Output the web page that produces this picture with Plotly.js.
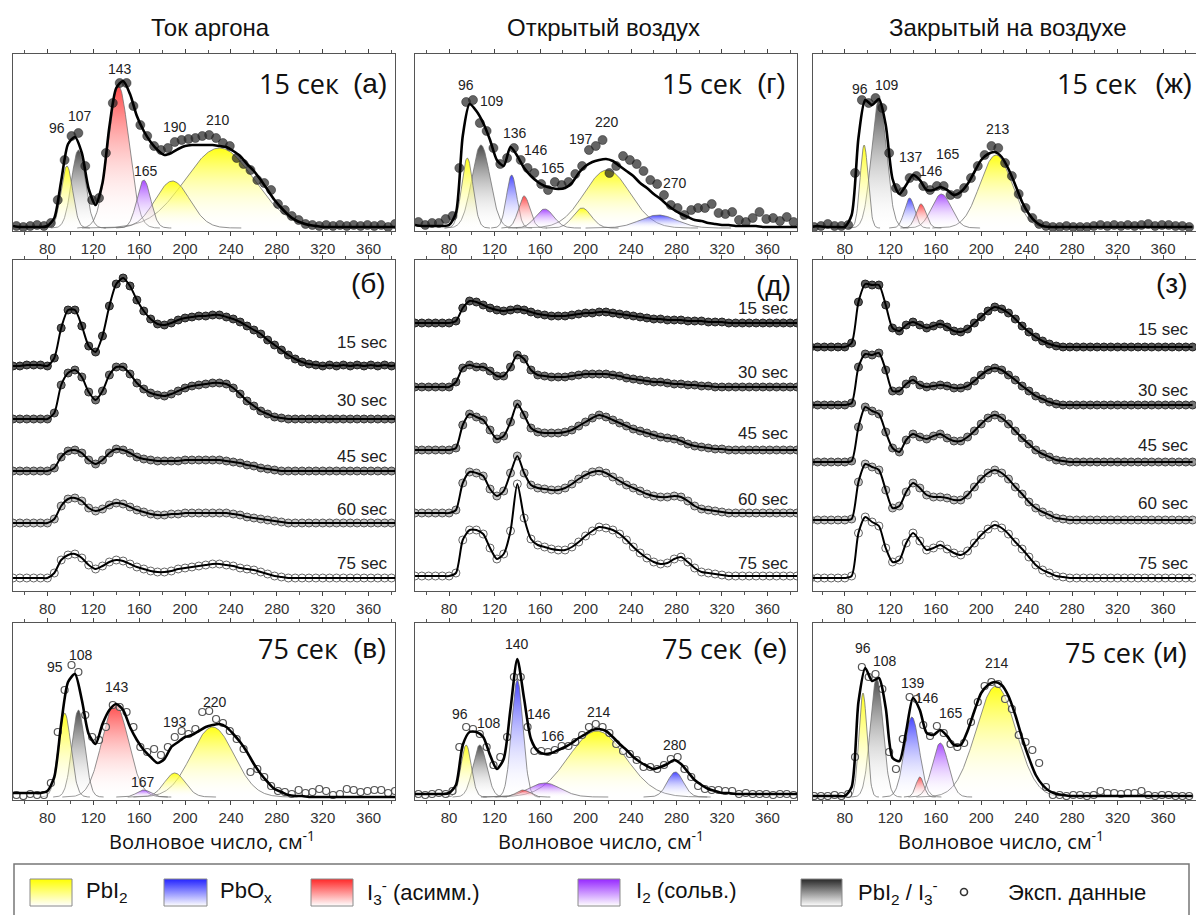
<!DOCTYPE html>
<html><head><meta charset="utf-8">
<script src="https://cdn.plot.ly/plotly-3.0.1.min.js"></script>
<style>html,body{margin:0;padding:0;background:#fff}#chart{width:1196px;height:915px}</style>
</head><body><div id="chart"></div>
<script>
// ---------------- DATA ----------------
const columnTitles = ['Ток аргона', 'Открытый воздух', 'Закрытый на воздухе'];
const stackLabels = ['15 sec', '30 sec', '45 sec', '60 sec', '75 sec'];
const panelLetters = [['(а)', '(г)', '(ж)'], ['(б)', '(д)', '(з)'], ['(в)', '(е)', '(и)']];
const topTimeLabel = '15 сек', bottomTimeLabel = '75 сек';
const xTitle = 'Волновое число, см<sup>-1</sup>';
const legendNames = ['PbI<sub>2</sub>', 'PbO<sub>x</sub>', 'I<sub>3</sub><sup>-</sup> (асимм.)', 'I<sub>2</sub> (сольв.)', 'PbI<sub>2</sub> / I<sub>3</sub><sup>-</sup>', 'Эксп. данные'];
const legendKinds = ['PbI2', 'PbOx', 'I3', 'I2', 'PbI2/I3'];

// wavenumber grids (cm-1)
const fitX = [50,56,62,68,74,80,86,92,98,104,110,116,122,128,134,140,146,152,158,164,170,176,182,188,194,200,206,212,218,224,230,236,242,248,254,260,266,272,278,284,290,296,302,308,314,320,326,332,338,344,350,356,362,368,374,380,386];
const dotX = [53,59,65,71,77,83,89,95,101,107,113,119,125,131,137,143,149,155,161,167,173,179,185,191,197,203,209,215,221,227,233,239,245,251,257,263,269,275,281,287,293,299,305,311,317,323,329,335,341,347,353,359,365,371,377,383];

// (а) argon 15 s
const fitA  = [2,1,1,1,1,2,10,47,84,91, 75,39,23,45,101,140,147,134,112,97, 86,78,73,75,79,82,83,83,83,83, 82,81,77,72,64,57,48,38,28,20, 13,8,5,3,2,1,1,1,1,1, 1,1,1,1,1,1,1];
const dotsA = [2,1,2,3,2,5,28,68,92,95, 62,28,30,75,125,145,145,122,103,92, 82,78,80,86,88,89,90,92,93,90, 85,82,70,64,58,48,45,38,24,18, 12,8,4,3,2,3,2,3,2,3, 2,3,2,3,1,4];
const peaksA   = ['96','107','143','165','190','210'];
const centersA = [97,107,142,164,189,230];
const heightsA = [62,78,142,48,47,80];
const widthsA  = [5,6,9,6,15,30];
const kindsA   = ['PbI2','PbI2/I3','I3','I2','PbI2','PbI2'];

// (г) open air 15 s
const fitG  = [3,2,2,2,2,3,15,92,124,117, 105,88,68,62,81,72,60,52,46,42, 40,39,40,45,55,62,66,68,69,67, 62,57,52,45,40,34,29,23,18,14, 11,8,7,5,4,3,3,2,2,2, 2,1,1,1,1,1,1];
const dotsG = [6,3,5,5,9,12,60,126,128,105, 97,80,64,70,80,68,60,55,44,38, 46,43,46,54,62,78,82,88,55,62, 72,68,64,57,48,44,33,23,20,13, 18,20,20,24,15,14,16,8,6,10, 16,9,10,7,11,6];
const peaksG   = ['96','109','136','146','165','197','220','270'];
const centersG = [96,108,135,146,164,197,219,264];
const heightsG = [70,83,53,32,19,20,58,13];
const widthsG  = [5,8,4.5,5,8,8,20,16];
const kindsG   = ['PbI2','PbI2/I3','PbOx','I3','I2','PbI2','PbI2','PbOx'];

// (ж) closed in air 15 s
const fitZh  = [1,2,1,1,1,1,13,90,128,123, 129,103,49,34,43,53,48,38,38,41, 38,33,36,44,56,68,74,76,71,59, 43,26,14,6,2,1,1,1,1,1, 1,1,1,1,1,1,1,1,1,1, 1,1,1,1,1,1,1];
const dotsZh = [1,2,4,2,2,3,55,128,125,130, 120,75,40,36,50,52,42,38,42,42, 33,34,40,50,62,73,82,80,65,52, 34,20,10,4,2,1,1,2,1,1, 1,2,3,2,3,2,3,2,3,4, 2,3,3,2,2,1];
const peaksZh   = ['96','109','137','146','165','213'];
const centersZh = [97,110,137,147,165,213];
const heightsZh = [83,128,30,24,34,73];
const widthsZh  = [3.5,6.5,4.5,4.5,8.5,14];
const kindsZh   = ['PbI2','PbI2/I3','PbOx','I3','I2','PbI2'];

// (в) argon 75 s
const fitV  = [4,4,4,4,4,6,20,73,115,123, 97,63,53,73,87,93,87,70,57,47, 40,34,38,50,55,60,62,66,70,72, 73,70,63,55,45,33,23,15,8,5, 2,1,1,0,0,0,0,0,0,0, 0,0,0,0,0,0,0];
const dotsV = [2,1,3,2,2,14,65,107,132,125, 82,60,57,70,92,90,85,70,50,45, 48,42,50,60,66,63,68,85,86,78, 74,66,58,48,25,28,20,11,6,5, 3,7,4,5,8,6,2,3,8,7, 5,6,7,7,4,6];
const peaksV   = ['95','108','143','167','193','220'];
const centersV = [95,107,139,164,191,224];
const heightsV = [84,87,93,7,24,70];
const widthsV  = [5.5,5.5,11.5,6,9,18.5];
const kindsV   = ['PbI2','PbI2/I3','I3','I2','PbI2','PbI2'];

// (е) open air 75 s
const fitE  = [3,3,3,3,3,4,12,52,65,65, 60,42,28,38,88,138,98,58,46,43, 44,47,50,54,59,63,67,68,66,60, 53,47,40,35,31,28,30,33,37,33, 25,17,12,8,6,4,4,3,3,3, 3,3,3,3,3,3,3];
const dotsE = [3,2,3,4,3,6,50,70,68,63, 50,32,40,60,120,120,70,46,46,45, 47,51,51,55,62,70,73,70,64,53, 46,43,37,30,30,28,32,38,40,28, 20,11,8,7,7,6,6,3,4,3, 3,3,2,3,3,2];
const peaksE   = ['96','108','140','146','166','214','280'];
const centersE = [95,107,140,145,164,210,279];
const heightsE = [52,52,117,7,14,66,25];
const widthsE  = [4.5,6,5,6,14,25,7];
const kindsE   = ['PbI2','PbI2/I3','PbOx','I3','I2','PbI2','PbOx'];

// (и) closed in air 75 s
const fitI  = [1,1,1,1,1,1,10,95,129,116, 119,89,39,36,66,99,87,64,62,67, 61,52,52,66,86,104,112,115,112,101, 82,59,39,22,12,6,3,2,1,1, 1,1,1,1,1,1,1,1,1,1, 1,1,1,1,1,1,1];
const dotsI = [1,1,1,2,1,3,40,130,120,123, 108,45,28,58,100,98,72,61,71,64, 53,50,54,75,95,111,115,113,98,88, 62,55,47,34,10,2,2,1,2,2, 1,2,6,4,4,3,4,4,6,2, 1,2,2,1,1,1];
const peaksI   = ['96','108','139','146','165','214'];
const centersI = [96,108,139,146,164,213];
const heightsI = [104,119,80,20,54,111];
const widthsI  = [3.5,5.5,6.5,3.5,7,17.5];
const kindsI   = ['PbI2','PbI2/I3','PbOx','I3','I2','PbI2'];

// middle row: stacked spectra (intensity above each trace's own baseline)
const argon15 = [0,0,1,1,1,0,8,38,56,56, 40,20,14,30,60,82,88,80,66,55, 47,42,41,43,46,48,49,50,50,51, 51,49,47,44,40,36,32,26,21,16, 11,7,4,2,1,0,1,0,1,0, 1,0,1,0,1,0,1];
const argon30 = [0,0,0,0,0,0,6,34,46,49, 42,27,19,28,44,52,52,45,36,30, 26,24,23,25,28,31,33,34,35,36, 36,35,31,25,18,13,8,5,2,1, 0,0,0,0,0,0,0,0,0,0, 0,0,0,0,0,0,0];
const argon45 = [0,0,0,0,0,0,3,14,20,21, 18,11,7,11,18,22,21,18,14,12, 11,10,10,10,10,11,11,11,11,11, 11,10,9,8,6,5,3,2,1,0, 0,0,0,0,0,0,0,0,0,0, 0,0,0,0,0,0,0];
const argon60 = [0,0,0,0,0,0,4,17,24,25, 22,15,12,14,18,20,19,16,13,11, 9,8,8,9,9,10,10,10,10,10, 10,10,9,8,6,5,4,3,2,1, 0,0,0,0,0,0,0,0,0,0, 0,0,0,0,0,0,0];
const argon75 = [0,0,0,0,0,0,5,18,23,24, 20,13,9,12,16,18,17,14,11,9, 7,6,6,7,9,10,11,12,13,14, 14,13,12,10,9,8,6,4,2,1, 0,0,0,0,0,0,0,0,0,0, 0,0,0,0,0,0,0];
const open15 = [0,0,0,0,0,0,2,15,22,21, 18,15,13,12,13,14,13,11,9,8, 7,7,7,8,9,10,10,11,11,10, 9,8,7,6,5,4,4,3,3,3, 2,2,2,1,1,1,0,0,0,0, 0,0,0,0,0,0,0];
const open30 = [0,0,0,0,0,0,5,19,22,20, 20,16,11,11,20,32,28,17,12,11, 10,10,10,11,12,13,13,13,13,12, 11,9,8,7,6,5,5,4,3,3, 2,2,1,1,0,0,0,0,0,0, 0,0,0,0,0,0,0];
const open45 = [0,0,0,0,0,0,2,25,36,33, 30,20,11,14,28,46,35,22,18,17, 17,17,18,20,24,28,32,35,33,30, 27,24,21,19,17,15,13,12,11,9, 6,4,3,2,1,1,0,0,0,0, 0,0,0,0,0,0,0];
const open60 = [0,0,0,0,0,0,3,30,41,40, 37,24,17,22,40,57,40,28,25,24, 23,23,25,29,34,38,41,42,40,36, 32,28,25,22,19,17,16,16,17,16, 12,7,4,3,2,1,0,0,0,0, 0,0,0,0,0,0,0];
const open75 = [0,0,0,0,0,0,3,36,46,46, 42,28,17,22,45,92,58,37,31,29, 27,26,26,29,34,40,45,49,48,46, 42,36,29,23,18,14,12,13,17,19, 14,8,4,3,2,1,0,0,0,0, 0,0,0,0,0,0,0];
const closed15 = [0,0,0,0,0,0,4,45,63,62, 62,42,19,16,22,25,22,19,21,23, 20,16,15,18,24,30,36,40,38,34, 28,21,15,10,6,3,1,0,0,0, 0,0,0,0,0,0,0,0,0,0, 0,0,0,0,0,0,0];
const closed30 = [0,0,0,0,0,0,2,38,51,50, 52,35,14,14,21,25,20,18,19,20, 19,17,17,19,24,30,35,37,35,30, 25,19,14,9,6,3,1,0,0,0, 0,0,0,0,0,0,0,0,0,0, 0,0,0,0,0,0,0];
const closed45 = [0,0,0,0,0,0,1,35,55,51, 48,30,14,10,22,28,25,23,26,28, 24,21,21,25,31,38,44,47,44,38, 31,24,18,12,8,5,2,1,0,0, 0,0,0,0,0,0,0,0,0,0, 0,0,0,0,0,0,0];
const closed60 = [0,0,0,0,0,0,1,38,56,53, 50,30,12,14,28,37,32,25,23,23, 22,20,20,25,33,41,47,50,47,41, 33,26,18,12,8,5,2,1,0,0, 0,0,0,0,0,0,0,0,0,0, 0,0,0,0,0,0,0];
const closed75 = [0,0,0,0,0,0,2,45,61,56, 52,30,16,18,35,45,37,28,30,33, 29,25,23,27,35,43,49,53,50,44, 36,29,21,13,8,5,2,1,0,0, 0,0,0,0,0,0,0,0,0,0, 0,0,0,0,0,0,0];

// ---------------- LAYOUT / STYLE ----------------
const W = 1196, H = 915;
const px = x => x / W, py = y => 1 - y / H;
const ARIAL = "'Liberation Sans', Arial, sans-serif";
const OPEN = "'Open Sans', 'Liberation Sans', sans-serif";
const colDom = [[13, 395], [415, 797], [813, 1196]];
const rowDom = [[54, 231], [260, 591], [623, 800]];
const colRange = [[50, 383], [50, 386], [52, 389]];
const fitRange = [-3, 174], stackRange = [0, 331];
const stackOffsets = [[225, 172, 120, 68, 13], [268, 204, 141, 78, 15], [244, 186, 129, 71, 13]];
const stackLabelY = [[343, 401, 457, 509, 563], [308, 373, 434, 499, 563], [330, 391, 445, 503, 563]];
const stackLabelRight = [390, 791, 1191];
const stackDotStyle = [
  {fill: 'rgba(45,45,45,0.8)', line: '#222'},
  {fill: 'rgba(70,70,70,0.75)', line: '#333'},
  {fill: 'rgba(105,105,105,0.7)', line: '#444'},
  {fill: 'rgba(160,160,160,0.6)', line: '#555'},
  {fill: 'rgba(255,255,255,0.4)', line: '#666'}
];
const kindColor = {
  'PbI2': 'rgba(255,255,0,0.92)', 'PbOx': 'rgba(35,35,255,0.85)', 'I3': 'rgba(255,40,40,0.85)',
  'I2': 'rgba(150,40,255,0.85)', 'PbI2/I3': 'rgba(40,40,40,0.85)'
};
const labelPos = {
  A: [[88,100],[108,112],[143,159],[166,57],[191,101],[229,108]],
  G: [[95,143],[118,127],[138,95],[156,78],[171,60],[196,89],[219,106],[279,45]],
  Zh: [[93,139],[117,143],[138.5,71],[156,57],[171,74],[214.5,99]],
  V: [[87,130],[109,142],[141,110],[163.5,15],[191,75],[226,95]],
  E: [[90,83],[115,74],[140,153],[159,83],[171,61],[212,85],[279,52]],
  I: [[96,149],[115,136],[140,114],[152,99],[173,84],[214,134]]
};
const timeLabelPos = {top: [[341,83],[744,83],[1139,83]], bottom: [[340,648],[744,648],[1147,652]]};
const letterPos = [[[389,83],[788,83],[1194,83]], [[388,283],[793,285],[1190,283]], [[389,648],[789,648],[1189,652]]];
const titleX = [210, 603, 1008], xTitleX = [212, 601, 1001];

const traces = [], annotations = [], shapes = [];
const layout = {
  width: W, height: H, margin: {l: 0, r: 0, t: 0, b: 0},
  paper_bgcolor: '#ffffff', plot_bgcolor: 'rgba(0,0,0,0)', showlegend: false,
  font: {family: ARIAL, size: 14, color: '#222'}, hovermode: false
};
const sfx = k => (k === 1 ? '' : String(k));

for (let row = 0; row < 3; row++) {
  for (let col = 0; col < 3; col++) {
    const k = row * 3 + col + 1;
    layout['xaxis' + sfx(k)] = {
      domain: [px(colDom[col][0]), px(colDom[col][1])], range: colRange[col], anchor: 'y' + sfx(k),
      tickmode: 'linear', tick0: 80, dtick: 40, ticks: 'outside', ticklen: 4, tickwidth: 1, tickcolor: '#444',
      minor: {dtick: 20, ticks: 'outside', ticklen: 2.5, tickcolor: '#555'},
      showline: true, linecolor: '#555', linewidth: 1.3, mirror: 'allticks',
      showgrid: false, zeroline: false, fixedrange: true,
      tickfont: {family: ARIAL, size: 15, color: '#333'}
    };
    layout['yaxis' + sfx(k)] = {
      domain: [py(rowDom[row][1]), py(rowDom[row][0])], range: row === 1 ? stackRange : fitRange,
      anchor: 'x' + sfx(k), showticklabels: false, ticks: '', showline: true, linecolor: '#555',
      linewidth: 1.3, mirror: col === 2 ? false : true, showgrid: false, zeroline: false, fixedrange: true
    };
  }
}
// overlay axis in pixel units for the custom legend
layout.xaxis10 = {domain: [0, 1], range: [0, W], visible: false, fixedrange: true, anchor: 'y10'};
layout.yaxis10 = {domain: [0, 1], range: [H, 0], visible: false, fixedrange: true, anchor: 'x10'};

// ---- fitted panels (top and bottom rows) ----
const fitPanels = [
  {row: 0, col: 0, fit: fitA, dots: dotsA, p: peaksA, c: centersA, h: heightsA, w: widthsA, kd: kindsA, pos: labelPos.A},
  {row: 0, col: 1, fit: fitG, dots: dotsG, p: peaksG, c: centersG, h: heightsG, w: widthsG, kd: kindsG, pos: labelPos.G},
  {row: 0, col: 2, fit: fitZh, dots: dotsZh, p: peaksZh, c: centersZh, h: heightsZh, w: widthsZh, kd: kindsZh, pos: labelPos.Zh},
  {row: 2, col: 0, fit: fitV, dots: dotsV, p: peaksV, c: centersV, h: heightsV, w: widthsV, kd: kindsV, pos: labelPos.V},
  {row: 2, col: 1, fit: fitE, dots: dotsE, p: peaksE, c: centersE, h: heightsE, w: widthsE, kd: kindsE, pos: labelPos.E},
  {row: 2, col: 2, fit: fitI, dots: dotsI, p: peaksI, c: centersI, h: heightsI, w: widthsI, kd: kindsI, pos: labelPos.I}
];
const gaussGrid = [];
for (let x = 50; x <= 390; x += 0.5) gaussGrid.push(x);

fitPanels.forEach(P => {
  const k = P.row * 3 + P.col + 1, xa = 'x' + sfx(k), ya = 'y' + sfx(k);
  const order = P.c.map((_, i) => i).sort((a, b) => P.w[b] * P.h[b] - P.w[a] * P.h[a]);
  order.forEach(i => {
    const xs = gaussGrid.filter(x => Math.abs(x - P.c[i]) <= 4 * P.w[i]);
    const ys = xs.map(x => P.h[i] * Math.exp(-0.5 * Math.pow((x - P.c[i]) / P.w[i], 2)));
    traces.push({
      type: 'scatter', mode: 'lines', x: xs, y: ys, xaxis: xa, yaxis: ya, fill: 'tozeroy',
      fillgradient: {type: 'vertical', colorscale: [[0, 'rgba(255,255,255,0.05)'], [1, kindColor[P.kd[i]]]]},
      line: {color: 'rgba(110,110,110,0.85)', width: 0.9}, hoverinfo: 'skip'
    });
  });
  const open = P.row === 2;
  traces.push({
    type: 'scatter', mode: 'markers', x: dotX, y: P.dots, xaxis: xa, yaxis: ya,
    marker: open ? {symbol: 'circle', size: 7, color: 'rgba(255,255,255,0.55)', line: {color: '#555', width: 1.2}}
                 : {symbol: 'circle', size: 9, color: 'rgba(40,40,40,0.72)', line: {color: 'rgba(30,30,30,0.6)', width: 0.8}}
  });
  traces.push({
    type: 'scatter', mode: 'lines', x: fitX, y: P.fit, xaxis: xa, yaxis: ya,
    line: {color: '#000', width: 2.6, shape: 'spline', smoothing: 0.7}
  });
  P.p.forEach((t, i) => annotations.push({
    xref: xa, yref: ya, x: P.pos[i][0], y: P.pos[i][1], text: t, showarrow: false,
    font: {family: ARIAL, size: 14, color: '#222'}, xanchor: 'center', yanchor: 'middle'
  }));
  const tp = (P.row === 0 ? timeLabelPos.top : timeLabelPos.bottom)[P.col];
  annotations.push({xref: 'paper', yref: 'paper', x: px(tp[0]), y: py(tp[1]), text: P.row === 0 ? topTimeLabel : bottomTimeLabel,
    showarrow: false, xanchor: 'right', yanchor: 'middle', font: {family: OPEN, size: 27, color: '#111'}});
});

// ---- stacked spectra (middle row) ----
const stacks = [[argon15, argon30, argon45, argon60, argon75], [open15, open30, open45, open60, open75], [closed15, closed30, closed45, closed60, closed75]];
stacks.forEach((series, col) => {
  const k = 3 + col + 1, xa = 'x' + sfx(k), ya = 'y' + sfx(k);
  series.forEach((arr, j) => {
    const yy = arr.map(v => v + stackOffsets[col][j]);
    const st = stackDotStyle[j];
    traces.push({type: 'scatter', mode: 'markers', x: fitX, y: yy, xaxis: xa, yaxis: ya,
      marker: {symbol: 'circle', size: 8, color: st.fill, line: {color: st.line, width: 1}}});
    traces.push({type: 'scatter', mode: 'lines', x: fitX, y: yy, xaxis: xa, yaxis: ya,
      line: {color: '#000', width: 2, shape: 'spline', smoothing: 0.7}});
    annotations.push({xref: 'paper', yref: 'paper', x: px(stackLabelRight[col]), y: py(stackLabelY[col][j]),
      text: stackLabels[j], showarrow: false, xanchor: 'right', yanchor: 'middle', font: {family: ARIAL, size: 17, color: '#222'}});
  });
});

// panel letters
for (let row = 0; row < 3; row++) for (let col = 0; col < 3; col++) {
  const lp = letterPos[row][col];
  annotations.push({xref: 'paper', yref: 'paper', x: px(lp[0]), y: py(lp[1]), text: panelLetters[row][col], showarrow: false,
    xanchor: 'right', yanchor: 'middle', font: {family: ARIAL, size: 28, color: '#111'}});
}
// column titles and x titles
columnTitles.forEach((t, col) => {
  annotations.push({xref: 'paper', yref: 'paper', x: px(titleX[col]), y: py(28), text: t, showarrow: false,
    xanchor: 'center', yanchor: 'middle', font: {family: ARIAL, size: 24, color: '#111'}});
  annotations.push({xref: 'paper', yref: 'paper', x: px(xTitleX[col]), y: py(840), text: xTitle, showarrow: false,
    xanchor: 'center', yanchor: 'middle', font: {family: OPEN, size: 20, color: '#111'}});
});

// ---- custom legend ----
shapes.push({type: 'rect', xref: 'x10', yref: 'y10', x0: 14, x1: 1189, y0: 864, y1: 925, line: {color: '#777', width: 1.5}, fillcolor: 'rgba(0,0,0,0)'});
const swatchX = [[30, 72], [164, 207], [311, 353], [578, 620], [801, 842]];
const legendTextX = [84, 218, 365, 634, 856, 1006];
legendKinds.forEach((kd, i) => {
  const [x0, x1] = swatchX[i], y0 = 879, y1 = 906;
  traces.push({type: 'scatter', mode: 'lines', xaxis: 'x10', yaxis: 'y10',
    x: [x0, x1, x1, x0, x0], y: [y0, y0, y1, y1, y0], fill: 'toself',
    fillgradient: {type: 'vertical', start: y0, stop: y1, colorscale: [[0, kindColor[kd].replace(/[\d.]+\)$/, '1)')], [1, '#ffffff']]},
    line: {color: '#8a8a8a', width: 1}});
});
traces.push({type: 'scatter', mode: 'markers', xaxis: 'x10', yaxis: 'y10', x: [964], y: [892],
  marker: {symbol: 'circle-open', size: 7, color: '#333', line: {width: 1.6}}});
legendNames.forEach((t, i) => annotations.push({xref: 'x10', yref: 'y10', x: legendTextX[i], y: 892, text: t,
  showarrow: false, xanchor: 'left', yanchor: 'middle', font: {family: ARIAL, size: 22, color: '#111'}}));

layout.annotations = annotations;
layout.shapes = shapes;
Plotly.newPlot('chart', traces, layout, {staticPlot: true, displayModeBar: false});
</script>
</body></html>
